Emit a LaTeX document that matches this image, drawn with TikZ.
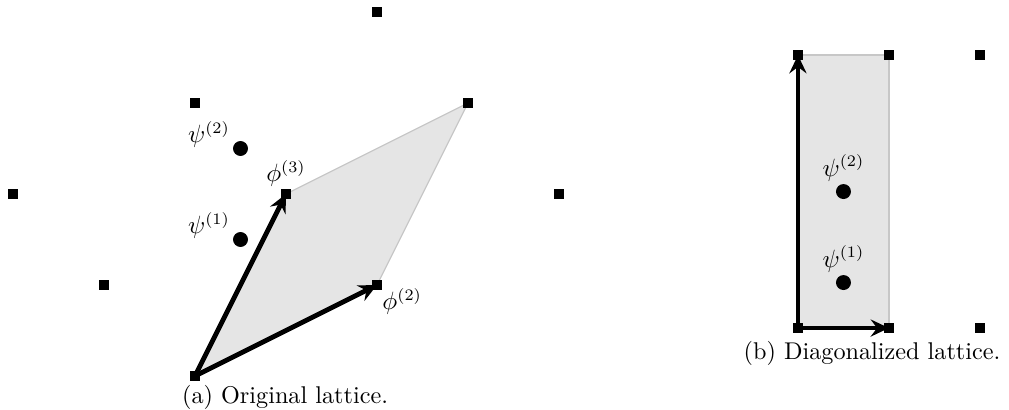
\documentclass[tikz,border=0pt]{standalone}
\usetikzlibrary{arrows.meta}
\begin{document}
\begin{tikzpicture}[x=1.4cm,y=1.4cm,
  font=\fontsize{10.6pt}{13pt}\selectfont,
  latpt/.style={fill=black,minimum size=0.154cm,inner sep=0pt,outer sep=0pt},
  dotpt/.style={circle,fill=black,minimum size=0.23cm,inner sep=0pt},
  cell/.style={fill=black!10},
  celledge/.style={draw=black!22,line width=0.5pt},
  vec/.style={line width=2.1pt,-{Stealth[length=8pt,width=7.5pt,inset=2.8pt]}},
  lbl/.style={inner sep=1pt}]
\useasboundingbox (-2.143,-0.363) rectangle (8.945,4.132);
% ---- (a) original lattice
\coordinate (O) at (0,0);
\coordinate (P2) at (2,1);
\coordinate (P3) at (1,2);
\coordinate (P4) at (3,3);
\fill[cell] (O) -- (P2) -- (P4) -- (P3) -- cycle;
\draw[celledge] (P2) -- (P4) -- (P3);
\node[latpt] (a0) at (O) {};
\node[latpt] (a2) at (P2) {};
\node[latpt] (a3) at (P3) {};
\node[latpt] (a4) at (P4) {};
\node[latpt] (a5) at (2,4) {};
\node[latpt] (a6) at (0,3) {};
\node[latpt] (a7) at (-2,2) {};
\node[latpt] (a8) at (-1,1) {};
\node[latpt] (a9) at (4,2) {};
\draw[vec] (a0.center) -- (a2.center);
\draw[vec] (a0.center) -- (a3.center);
\node[dotpt] (s1) at (0.5,1.5) {};
\node[dotpt] (s2) at (0.5,2.5) {};
\node[lbl,anchor=south east] at ([xshift=-1pt,yshift=-3pt]s1.north west) {$\psi^{(1)}$};
\node[lbl,anchor=south east] at ([xshift=-1pt,yshift=-3pt]s2.north west) {$\psi^{(2)}$};
\node[lbl,anchor=south] at ([xshift=0pt,yshift=0pt]a3.north) {$\phi^{(3)}$};
\node[lbl,anchor=north west] at ([xshift=-1pt,yshift=2pt]a2.south east) {$\phi^{(2)}$};
\node (capa) at (0.99,-0.235) {(a)\ Original lattice.};
% ---- (b) diagonalized lattice
\begin{scope}[shift={(6.626,0.527)}]
\coordinate (Q0) at (0,0);
\coordinate (Q1) at (1,0);
\coordinate (Q3) at (0,3);
\coordinate (Q4) at (1,3);
\fill[cell] (Q0) -- (Q1) -- (Q4) -- (Q3) -- cycle;
\draw[celledge] (Q1) -- (Q4) -- (Q3);
\node[latpt] (b0) at (Q0) {};
\node[latpt] (b1) at (Q1) {};
\node[latpt] (b3) at (Q3) {};
\node[latpt] (b4) at (Q4) {};
\node[latpt] (b5) at (2,3) {};
\node[latpt] (b6) at (2,0) {};
\draw[vec] (b0.center) -- (b1.center);
\draw[vec] (b0.center) -- (b3.center);
\node[dotpt] (t1) at (0.5,0.5) {};
\node[dotpt] (t2) at (0.5,1.5) {};
\node[lbl,anchor=south] at ([yshift=0pt]t1.north) {$\psi^{(1)}$};
\node[lbl,anchor=south] at ([yshift=0pt]t2.north) {$\psi^{(2)}$};
\end{scope}
\node (capb) at (7.44,0.25) {(b)\ Diagonalized lattice.};
\end{tikzpicture}
\end{document}
